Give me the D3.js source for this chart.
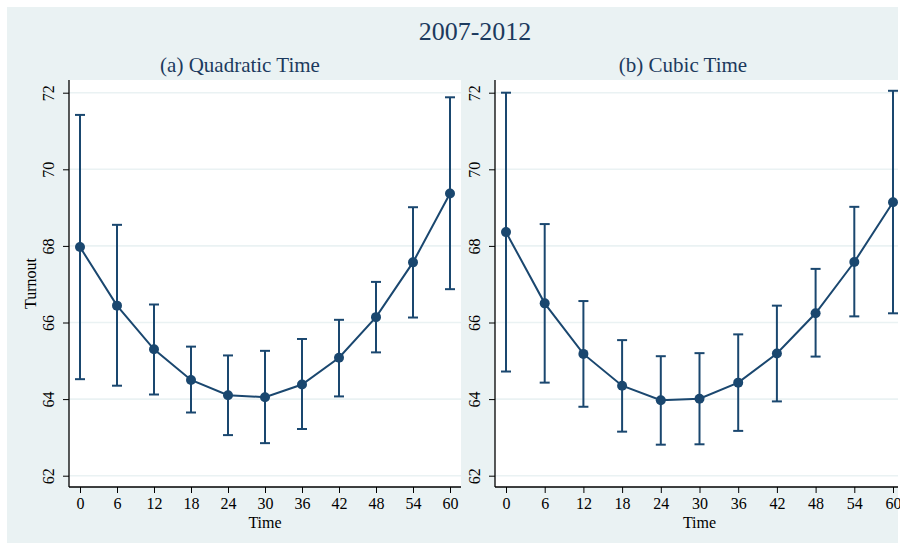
<!DOCTYPE html>
<html>
<head>
<meta charset="utf-8">
<script src="https://cdn.jsdelivr.net/npm/d3@7"></script>
<style>
  body { margin: 0; background: #fff; }
  svg text { font-family: "Liberation Serif", "DejaVu Serif", serif; fill: #000; }
</style>
</head>
<body>
<svg></svg>
<script>
const width = 900;
const height = 545;
const navy = '#1a476f';
const bg = '#eaf2f3';

// data
const times = [0, 6, 12, 18, 24, 30, 36, 42, 48, 54, 60];
const quadEst = [67.97, 66.44, 65.30, 64.50, 64.10, 64.05, 64.38, 65.08, 66.14, 67.57, 69.37];
const quadLo = [64.52, 64.35, 64.12, 63.65, 63.06, 62.85, 63.22, 64.07, 65.22, 66.13, 66.87];
const quadHi = [71.42, 68.55, 66.47, 65.37, 65.14, 65.26, 65.57, 66.07, 67.06, 69.01, 71.88];
const cubicEst = [68.36, 66.50, 65.18, 64.35, 63.97, 64.01, 64.43, 65.19, 66.24, 67.58, 69.14];
const cubicLo = [64.72, 64.43, 63.80, 63.15, 62.81, 62.82, 63.17, 63.94, 65.11, 66.16, 66.24];
const cubicHi = [72.00, 68.57, 66.56, 65.54, 65.12, 65.20, 65.69, 66.44, 67.40, 69.02, 72.05];
const yTicks = [62, 64, 66, 68, 70, 72];
const xTicks = [0, 6, 12, 18, 24, 30, 36, 42, 48, 54, 60];

const svg = d3.select('svg')
  .attr('width', width)
  .attr('height', height);

svg.append('rect')
  .attr('x', 7).attr('y', 7)
  .attr('width', 891).attr('height', 536)
  .attr('fill', bg);

svg.append('text')
  .attr('x', 475).attr('y', 40)
  .attr('text-anchor', 'middle')
  .attr('font-size', 26)
  .style('fill', '#1c3a5e')
  .text('2007-2012');

const plotTop = 80;
const plotBottom = 487;

const panels = [
  { title: '(a) Quadratic Time', titleX: 240, left: 69, right: 461, x0: 80, x60: 450,
    est: quadEst, lo: quadLo, hi: quadHi, ylabel: true },
  { title: '(b) Cubic Time', titleX: 683, left: 495, right: 898, x0: 506, x60: 893,
    est: cubicEst, lo: cubicLo, hi: cubicHi, ylabel: false }
];

const drawPanel = p => {
  const g = svg.append('g');

  g.append('rect')
    .attr('x', p.left).attr('y', plotTop)
    .attr('width', p.right - p.left).attr('height', plotBottom - plotTop)
    .attr('fill', '#fff');

  const xScale = d3.scaleLinear().domain([0, 60]).range([p.x0, p.x60]);
  const yScale = d3.scaleLinear().domain([62, 72]).range([475.7, 92.7]);

  // grid
  g.selectAll('.grid')
    .data(yTicks)
    .join('line')
    .attr('x1', p.left).attr('x2', p.right)
    .attr('y1', d => yScale(d)).attr('y2', d => yScale(d))
    .attr('stroke', bg)
    .attr('stroke-width', 1.6);

  // axes
  const yAxis = d3.axisLeft(yScale).tickValues(yTicks).tickSize(6).tickPadding(4);
  const ya = g.append('g')
    .attr('transform', `translate(${p.left}, 0)`)
    .call(yAxis);
  ya.select('.domain').attr('d', `M0,${plotTop}V${plotBottom}`).attr('stroke', '#000').attr('stroke-width', 1.3);
  ya.selectAll('.tick line').attr('stroke', '#000');
  ya.selectAll('.tick text')
    .attr('font-size', 16)
    .attr('font-family', '"Liberation Serif", serif')
    .attr('x', null).attr('dy', null)
    .attr('text-anchor', 'middle')
    .attr('transform', 'translate(-15, 0) rotate(-90)');

  const xAxis = d3.axisBottom(xScale).tickValues(xTicks).tickSize(6).tickPadding(4);
  const xa = g.append('g')
    .attr('transform', `translate(0, ${plotBottom})`)
    .call(xAxis);
  xa.select('.domain').attr('d', `M${p.left},0H${p.right}`).attr('stroke', '#000').attr('stroke-width', 1.3);
  xa.selectAll('.tick line').attr('stroke', '#000');
  xa.selectAll('.tick text')
    .attr('font-size', 16)
    .attr('font-family', '"Liberation Serif", serif')
    .attr('dy', null)
    .attr('y', 22);

  g.append('text')
    .attr('x', (p.x0 + p.x60) / 2).attr('y', 528)
    .attr('text-anchor', 'middle')
    .attr('font-size', 16)
    .text('Time');

  if (p.ylabel) {
    g.append('text')
      .attr('transform', `translate(36, ${(plotTop + plotBottom) / 2}) rotate(-90)`)
      .attr('text-anchor', 'middle')
      .attr('font-size', 16)
      .text('Turnout');
  }

  g.append('text')
    .attr('x', p.titleX).attr('y', 72)
    .attr('text-anchor', 'middle')
    .attr('font-size', 21)
    .style('fill', '#1c3a5e')
    .text(p.title);

  const rows = times.map((t, i) => ({ t, est: p.est[i], lo: p.lo[i], hi: p.hi[i] }));

  // error bars
  const bars = g.append('g').attr('stroke', navy).attr('stroke-width', 2);
  bars.selectAll('.bar')
    .data(rows)
    .join('line')
    .attr('x1', d => xScale(d.t)).attr('x2', d => xScale(d.t))
    .attr('y1', d => yScale(d.lo)).attr('y2', d => yScale(d.hi));
  bars.selectAll('.capHi')
    .data(rows)
    .join('line')
    .attr('x1', d => xScale(d.t) - 5).attr('x2', d => xScale(d.t) + 5)
    .attr('y1', d => yScale(d.hi)).attr('y2', d => yScale(d.hi));
  bars.selectAll('.capLo')
    .data(rows)
    .join('line')
    .attr('x1', d => xScale(d.t) - 5).attr('x2', d => xScale(d.t) + 5)
    .attr('y1', d => yScale(d.lo)).attr('y2', d => yScale(d.lo));

  const line = d3.line()
    .x(d => xScale(d.t))
    .y(d => yScale(d.est));

  g.append('path')
    .datum(rows)
    .attr('fill', 'none')
    .attr('stroke', navy)
    .attr('stroke-width', 2)
    .attr('d', line);

  g.selectAll('.pt')
    .data(rows)
    .join('circle')
    .attr('cx', d => xScale(d.t))
    .attr('cy', d => yScale(d.est))
    .attr('r', 5)
    .attr('fill', navy);
};

panels.forEach(drawPanel);
</script>
</body>
</html>
